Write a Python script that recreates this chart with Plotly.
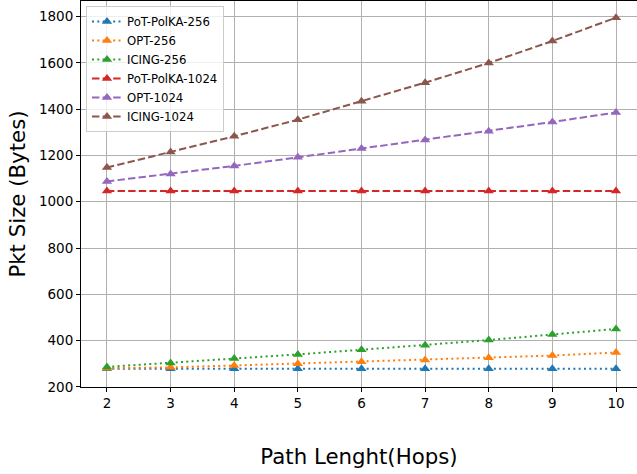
import plotly.graph_objects as go

hops = [2, 3, 4, 5, 6, 7, 8, 9, 10]

pot_polka_256 = [278, 278, 278, 278, 278, 278, 278, 278, 278]
opt_256 = [280, 284, 292, 300, 308, 316, 325, 335, 348]
icing_256 = [286, 303, 322, 340, 360, 380, 402, 426, 450]
pot_polka_1024 = [1046, 1046, 1046, 1046, 1046, 1046, 1046, 1046, 1046]
opt_1024 = [1088, 1120, 1155, 1192, 1230, 1267, 1305, 1345, 1386]
icing_1024 = [1148, 1215, 1283, 1355, 1435, 1515, 1600, 1695, 1796]

series_names = ["PoT-PolKA-256", "OPT-256", "ICING-256",
                "PoT-PolKA-1024", "OPT-1024", "ICING-1024"]
series_values = [pot_polka_256, opt_256, icing_256,
                 pot_polka_1024, opt_1024, icing_1024]
colors = ["#1f77b4", "#ff7f0e", "#2ca02c", "#d62728", "#9467bd", "#8c564b"]
dashes = ["2px,3.3px"] * 3 + ["7.4px,3.2px"] * 3

y_ticks = [200, 400, 600, 800, 1000, 1200, 1400, 1600, 1800]

FONT = "DejaVu Sans"

fig = go.Figure()
for name, vals, col, dsh in zip(series_names, series_values, colors, dashes):
    fig.add_trace(go.Scatter(
        x=hops, y=vals, name=name, mode="lines+markers",
        line=dict(color=col, width=2, dash=dsh),
        marker=dict(symbol="triangle-up", size=9, color=col),
    ))

fig.update_layout(
    width=637, height=474,
    margin=dict(l=81, r=0, t=1, b=87, autoexpand=False),
    paper_bgcolor="white", plot_bgcolor="white",
    font=dict(family=FONT, color="black", size=14),
    showlegend=True,
    legend=dict(
        x=0.009, y=0.987, xanchor="left", yanchor="top",
        bgcolor="rgba(255,255,255,0.8)", bordercolor="#cccccc", borderwidth=1,
        font=dict(family=FONT, size=11.7, color="black"),
        tracegroupgap=0, itemwidth=30,
    ),
    xaxis=dict(
        range=[1.592, 10.33], automargin=False,
        tickvals=hops, ticktext=[str(h) for h in hops],
        showgrid=True, gridcolor="#b0b0b0", gridwidth=1,
        showline=True, linecolor="black", linewidth=1, mirror=True,
        ticks="outside", ticklen=4, tickcolor="black", tickwidth=1,
        tickfont=dict(family=FONT, size=13.5),
        zeroline=False,
        title=dict(text="Path Lenght(Hops)", font=dict(family=FONT, size=21.3), standoff=38),
    ),
    yaxis=dict(
        range=[199, 1868], automargin=False,
        tickvals=y_ticks, ticktext=[str(v) for v in y_ticks],
        showgrid=True, gridcolor="#b0b0b0", gridwidth=1,
        showline=True, linecolor="black", linewidth=1,
        ticks="outside", ticklen=4, tickcolor="black", tickwidth=1,
        tickfont=dict(family=FONT, size=13.5),
        zeroline=False,
        title=dict(text="Pkt Size (Bytes)", font=dict(family=FONT, size=21.3), standoff=7),
    ),
)

fig.write_html("out.html", config={"displayModeBar": False},
               post_script="document.body.style.margin='0';")
